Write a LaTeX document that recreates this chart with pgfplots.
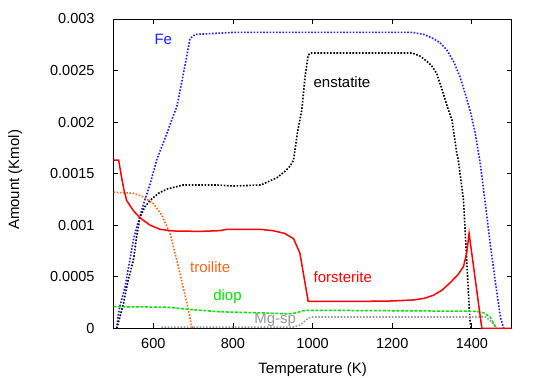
\documentclass[border=0pt]{standalone}
\usepackage{fontspec}
\setmainfont{Liberation Sans}
\usepackage{pgfplots}
\pgfplotsset{compat=1.18}

\definecolor{feblue}{RGB}{30,30,255}
\definecolor{troil}{RGB}{255,100,30}
\definecolor{diopg}{RGB}{0,225,0}
\definecolor{mgsp}{RGB}{150,150,150}
\definecolor{forst}{RGB}{255,0,0}

\newcommand{\tickfont}{\fontsize{14.5bp}{17bp}\selectfont}
\newcommand{\labfont}{\fontsize{15bp}{18bp}\selectfont}

\begin{document}
\begin{tikzpicture}
\path[use as bounding box] (0,0) rectangle (540bp,378bp);
\begin{axis}[
  at={(113.5bp,49.7bp)}, anchor=south west,
  scale only axis, width=398.2bp, height=309.3bp,
  xmin=500, xmax=1500, ymin=0, ymax=0.003,
  xtick={600,800,1000,1200,1400},
  ytick={0,0.0005,0.001,0.0015,0.002,0.0025,0.003},
  yticklabels={0,0.0005,0.001,0.0015,0.002,0.0025,0.003},
  scaled y ticks=false,
  /pgf/number format/set thousands separator={},
  /pgf/number format/assume math mode=true,
  tick align=inside, major tick length=5bp,
  axis line style={line width=0.8bp},
  every tick/.style={black, line width=0.8bp},
  tick label style={font=\tickfont},
  xticklabel style={yshift=-6.5bp},
  yticklabel style={xshift=-15.5bp},
  xlabel={Temperature (K)}, ylabel={Amount (Kmol)},
  xlabel style={at={(axis description cs:0.5,-0.135)}, anchor=center, font=\labfont},
  ylabel style={at={(axis description cs:-0.247,0.48)}, rotate=0, anchor=center, font=\labfont},
  dotline/.style={line width=1.6bp, dash pattern=on 1.6bp off 1.6bp},
]

% Fe
\addplot[feblue, dotline] coordinates {
  (508,0) (512,0.00013) (516,0.00021) (529,0.0004) (541,0.00066) (550,0.00086)
  (562,0.00103) (575,0.0012) (592,0.0014) (609,0.00164) (621,0.00176) (634,0.00189)
  (646,0.00202) (659,0.00215) (671,0.00238) (684,0.00264) (692,0.00281) (705,0.00285)
  (800,0.00287) (1000,0.00287) (1250,0.00287) (1280,0.00285) (1303,0.00281)
  (1320,0.00277) (1337,0.0027) (1355,0.00258) (1370,0.00244) (1383,0.00228)
  (1395,0.00212) (1408,0.0019) (1421,0.0016) (1434,0.0012) (1446,0.00082)
  (1460,0.00042) (1472,0.0001) (1480,0)
};

% enstatite
\addplot[black, dotline] coordinates {
  (508,0) (512,0.00005) (525,0.00024) (537,0.00047) (550,0.00066) (558,0.00089)
  (567,0.00108) (579,0.00118) (592,0.00124) (613,0.00131) (634,0.00135) (675,0.00139)
  (760,0.00139) (800,0.00138) (870,0.00139) (910,0.00146) (930,0.00152) (943,0.00157)
  (952,0.00163) (962,0.0019) (973,0.00212) (981,0.00244) (989,0.00265) (995,0.00267)
  (1250,0.00267) (1270,0.00264) (1287,0.00259) (1300,0.00254) (1312,0.00247)
  (1328,0.00228) (1340,0.00213) (1350,0.00202) (1362,0.0017) (1366,0.00163)
  (1379,0.00124) (1387,0.00066) (1395,0.00008) (1398,0)
};

% troilite
\addplot[troil, dotline] coordinates {
  (500,0.00132) (550,0.00131) (575,0.001275) (600,0.00121) (621,0.0011)
  (642,0.00092) (659,0.00066) (675,0.0004) (688,0.00018) (696,0.00002) (700,0)
};

% Mg-sp
\addplot[mgsp, dotline] coordinates {
  (620,0.00001) (800,0.00001) (950,0.00001) (968,0.00003) (990,0.0001)
  (1000,0.00011) (1435,0.00011) (1450,0.00006) (1462,0.00001)
};

% diop
\addplot[diopg, line width=1.5bp, dash pattern=on 3bp off 1.5bp] coordinates {
  (500,0.00021) (634,0.000205) (700,0.00018) (767,0.00016) (868,0.00015)
  (940,0.00014) (960,0.00015) (975,0.00017) (989,0.000175) (1000,0.000175)
  (1410,0.000165) (1430,0.00015) (1446,0.00011) (1458,0.00002) (1462,0)
};

% forsterite
\addplot[forst, line width=1.5bp] coordinates {
  (500,0.00163) (513,0.00163) (520,0.00147) (527,0.00133) (533,0.00124)
  (550,0.00114) (567,0.00107) (592,0.001) (617,0.00096) (650,0.000944)
  (717,0.00094) (767,0.000947) (784,0.00096) (868,0.00096) (901,0.000947)
  (930,0.00092) (952,0.00087) (968,0.00073) (989,0.00026) (1100,0.00026)
  (1200,0.000265) (1253,0.000275) (1280,0.00029) (1303,0.00032) (1325,0.00037)
  (1345,0.00044) (1365,0.00052) (1379,0.0006) (1387,0.00073) (1393,0.00092)
  (1425,0) (1500,0)
};

\node[feblue, font=\labfont] at (axis cs:625,0.0028) {Fe};
\node[black, font=\labfont, anchor=west, inner sep=0pt] at (axis cs:1002,0.00239) {enstatite};
\node[troil, font=\labfont, anchor=west, inner sep=0pt] at (axis cs:692,0.000597) {troilite};
\node[diopg, font=\labfont, anchor=west, inner sep=0pt] at (axis cs:750,0.000306) {diop};
\node[mgsp, font=\labfont, anchor=west, inner sep=0pt] at (axis cs:853,0.00008) {Mg-sp};
\node[forst, font=\labfont, anchor=west, inner sep=0pt] at (axis cs:1002,0.0005) {forsterite};
\end{axis}
\end{tikzpicture}
\end{document}
